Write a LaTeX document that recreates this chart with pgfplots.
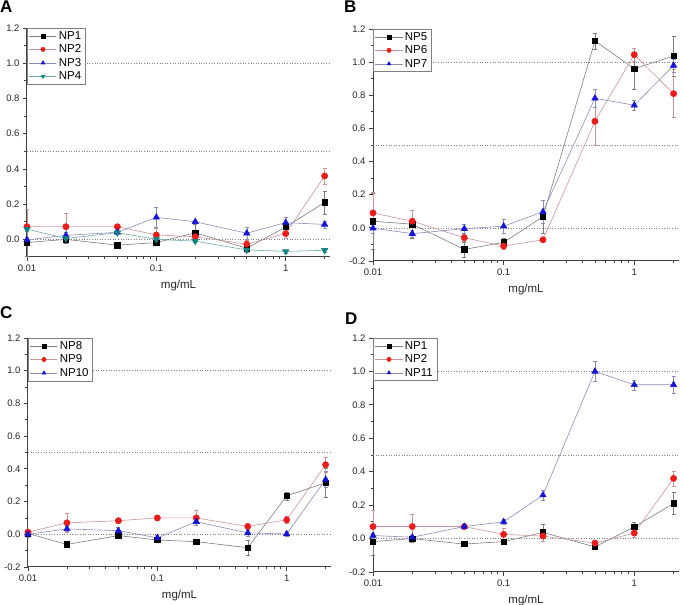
\documentclass[border=0pt]{standalone}
\usepackage{fontspec}
\setmainfont{Liberation Sans}
\usepackage{pgfplots}
\usepackage{pgfplotstable}
\pgfplotsset{compat=1.18}

\definecolor{mkred}{RGB}{235,28,28}
\definecolor{mkblue}{RGB}{20,20,210}
\definecolor{mkteal}{RGB}{20,130,130}
\definecolor{lnblack}{RGB}{125,125,125}
\definecolor{lnred}{RGB}{200,150,150}
\definecolor{lnblue}{RGB}{140,140,185}
\definecolor{lnteal}{RGB}{110,170,170}

% x, value, error
\pgfplotstableread{
x     np1     e1     np2     e2     np3     e3     np4     e4
0.01  -0.018  0.080   0.072  0.100  -0.003  0.015   0.058  0.010
0.02   0.000  0.020   0.072  0.075   0.023  0.015   0.005  0.010
0.05  -0.033  0.008   0.072  0.010   0.040  0.010   0.038  0.008
0.1   -0.018  0.010   0.025  0.040   0.125  0.055   0.000  0.010
0.2    0.037  0.050   0.015  0.030   0.100  0.010  -0.010  0.008
0.5   -0.050  0.010  -0.027  0.020   0.035  0.035  -0.060  0.010
1      0.070  0.025   0.033  0.025   0.095  0.030  -0.068  0.008
2      0.210  0.065   0.360  0.045   0.085  0.020  -0.062  0.008
}\tabA

\pgfplotstableread{
x     np5     e5     np6     e6     np7     e7
0.01   0.040  0.170   0.090  0.125  -0.002  0.030
0.02   0.022  0.085   0.040  0.065  -0.035  0.020
0.05  -0.130  0.045  -0.060  0.020  -0.005  0.030
0.1   -0.088  0.025  -0.110  0.020   0.010  0.040
0.2    0.068  0.100  -0.072  0.010   0.097  0.070
0.5    1.128  0.048   0.643  0.145   0.782  0.055
1      0.960  0.125   1.045  0.040   0.740  0.030
2      1.037  0.120   0.810  0.145   0.980  0.040
}\tabB

\pgfplotstableread{
x     np8     e8     np9     e9     np10    e10
0.01   0.005  0.015   0.013  0.015   0.000  0.015
0.02  -0.062  0.020   0.070  0.060   0.033  0.015
0.05  -0.008  0.010   0.083  0.015   0.022  0.020
0.1   -0.035  0.010   0.100  0.015  -0.022  0.015
0.2   -0.045  0.008   0.100  0.045   0.077  0.020
0.5   -0.082  0.045   0.048  0.015   0.008  0.020
1      0.235  0.025   0.088  0.020   0.002  0.015
2      0.315  0.090   0.425  0.045   0.335  0.050
}\tabC

\pgfplotstableread{
x     np11    e11
0.01   0.018  0.015
0.02   0.008  0.015
0.05   0.072  0.015
0.1    0.100  0.015
0.2    0.260  0.030
0.5    1.000  0.060
1      0.920  0.030
2      0.920  0.050
}\tabD

\pgfplotsset{
  sblack/.style={lnblack, line width=0.6pt, mark=square*, mark size=2.7pt,
    mark options={solid, fill=black, draw=black}},
  sred/.style={lnred, line width=0.6pt, mark=*, mark size=3.1pt,
    mark options={solid, fill=mkred, draw=mkred}},
  sblue/.style={lnblue, line width=0.6pt, mark=triangle*, mark size=3.6pt,
    mark options={solid, fill=mkblue, draw=mkblue}},
  steal/.style={lnteal, line width=0.6pt, mark=triangle*, mark size=3.6pt,
    mark options={solid, rotate=180, fill=mkteal, draw=mkteal}},
  legend image code/.code={
    \draw[#1, mark=none] (0pt,0pt) -- (27pt,0pt);
    \draw[#1, mark size=2.1pt] plot coordinates {(13.5pt,0pt)};
  },
}

\newcommand{\reflines}{%
  \draw[dash pattern=on 0.8pt off 1.8pt, black!50, line width=0.6pt] (axis cs:0.01,0) -- (axis cs:2.2,0);
  \draw[dash pattern=on 0.8pt off 1.8pt, black!50, line width=0.6pt] (axis cs:0.01,0.5) -- (axis cs:2.2,0.5);
  \draw[dash pattern=on 0.8pt off 1.8pt, black!50, line width=0.6pt] (axis cs:0.01,1) -- (axis cs:2.2,1);
}

\begin{document}
\begin{tikzpicture}
\useasboundingbox (0,0) rectangle (683pt,605pt);

\node[anchor=north west, inner sep=0pt, font=\fontsize{17}{18}\selectfont\bfseries] at (0pt,604pt) {A};
\node[anchor=north west, inner sep=0pt, font=\fontsize{17}{18}\selectfont\bfseries] at (344pt,604pt) {B};
\node[anchor=north west, inner sep=0pt, font=\fontsize{17}{18}\selectfont\bfseries] at (0pt,299pt) {C};
\node[anchor=north west, inner sep=0pt, font=\fontsize{17}{18}\selectfont\bfseries] at (345pt,292pt) {D};

% A
\begin{axis}[at={(27pt,348pt)}, anchor=south west,
    scale only axis, width=303pt, height=229pt,
    xmode=log, xmin=0.01, xmax=2.2, ymin=-0.1, ymax=1.2,
    axis lines*=left, clip=false,
    axis line style={line width=1pt, black!75},
    tick align=outside, tick style={black!75, line width=0.8pt},
    major tick length=4pt, minor tick length=2.5pt,
    xtick={0.01,0.1,1}, xticklabels={0.01,0.1,1},
    minor xtick={0.02,0.03,0.04,0.05,0.06,0.07,0.08,0.09,0.2,0.3,0.4,0.5,0.6,0.7,0.8,0.9,2},
    ytick={0,0.2,0.4,0.6,0.8,1.0,1.2}, minor y tick num=1,
    tick label style={font=\fontsize{9.5}{10}\selectfont, black!85},
    yticklabel={\pgfmathprintnumber[fixed,fixed zerofill,precision=1,assume math mode=true]{\tick}},
    xlabel={mg/mL}, xlabel style={font=\fontsize{11.5}{12}\selectfont, black!85, yshift=-2pt},
    legend style={at={(0,1)}, anchor=north west, draw=black!50,
      font=\fontsize{11.5}{12}\selectfont, inner xsep=2pt, inner ysep=1pt, row sep=0pt},
    legend cell align=left,
  ]
\reflines
\addplot[sblack, error bars/.cd, y dir=both, y explicit, error bar style={lnblack}, error mark options={rotate=90, mark size=2pt, lnblack}] table[x=x, y=np1, y error=e1] {\tabA};
\addlegendentry{NP1}
\addplot[sred, error bars/.cd, y dir=both, y explicit, error bar style={lnred}, error mark options={rotate=90, mark size=2pt, lnred}] table[x=x, y=np2, y error=e2] {\tabA};
\addlegendentry{NP2}
\addplot[sblue, error bars/.cd, y dir=both, y explicit, error bar style={lnblue}, error mark options={rotate=90, mark size=2pt, lnblue}] table[x=x, y=np3, y error=e3] {\tabA};
\addlegendentry{NP3}
\addplot[steal, error bars/.cd, y dir=both, y explicit, error bar style={lnteal}, error mark options={rotate=90, mark size=2pt, lnteal}] table[x=x, y=np4, y error=e4] {\tabA};
\addlegendentry{NP4}
\end{axis}

% B
\begin{axis}[at={(373pt,344pt)}, anchor=south west,
    scale only axis, width=306pt, height=232pt,
    xmode=log, xmin=0.01, xmax=2.2, ymin=-0.2, ymax=1.2,
    axis lines*=left, clip=false,
    axis line style={line width=1pt, black!75},
    tick align=outside, tick style={black!75, line width=0.8pt},
    major tick length=4pt, minor tick length=2.5pt,
    xtick={0.01,0.1,1}, xticklabels={0.01,0.1,1},
    minor xtick={0.02,0.03,0.04,0.05,0.06,0.07,0.08,0.09,0.2,0.3,0.4,0.5,0.6,0.7,0.8,0.9,2},
    ytick={-0.2,0,0.2,0.4,0.6,0.8,1.0,1.2}, minor y tick num=1,
    tick label style={font=\fontsize{9.5}{10}\selectfont, black!85},
    yticklabel={\pgfmathprintnumber[fixed,fixed zerofill,precision=1,assume math mode=true]{\tick}},
    xlabel={mg/mL}, xlabel style={font=\fontsize{11.5}{12}\selectfont, black!85, yshift=-2pt},
    legend style={at={(0,1)}, anchor=north west, draw=black!50,
      font=\fontsize{11.5}{12}\selectfont, inner xsep=2pt, inner ysep=1pt, row sep=0pt},
    legend cell align=left,
  ]
\reflines
\addplot[sblack, error bars/.cd, y dir=both, y explicit, error bar style={lnblack}, error mark options={rotate=90, mark size=2pt, lnblack}] table[x=x, y=np5, y error=e5] {\tabB};
\addlegendentry{NP5}
\addplot[sred, error bars/.cd, y dir=both, y explicit, error bar style={lnred}, error mark options={rotate=90, mark size=2pt, lnred}] table[x=x, y=np6, y error=e6] {\tabB};
\addlegendentry{NP6}
\addplot[sblue, error bars/.cd, y dir=both, y explicit, error bar style={lnblue}, error mark options={rotate=90, mark size=2pt, lnblue}] table[x=x, y=np7, y error=e7] {\tabB};
\addlegendentry{NP7}
\end{axis}

% C
\begin{axis}[at={(28pt,38pt)}, anchor=south west,
    scale only axis, width=303pt, height=229pt,
    xmode=log, xmin=0.01, xmax=2.2, ymin=-0.2, ymax=1.2,
    axis lines*=left, clip=false,
    axis line style={line width=1pt, black!75},
    tick align=outside, tick style={black!75, line width=0.8pt},
    major tick length=4pt, minor tick length=2.5pt,
    xtick={0.01,0.1,1}, xticklabels={0.01,0.1,1},
    minor xtick={0.02,0.03,0.04,0.05,0.06,0.07,0.08,0.09,0.2,0.3,0.4,0.5,0.6,0.7,0.8,0.9,2},
    ytick={-0.2,0,0.2,0.4,0.6,0.8,1.0,1.2}, minor y tick num=1,
    tick label style={font=\fontsize{9.5}{10}\selectfont, black!85},
    yticklabel={\pgfmathprintnumber[fixed,fixed zerofill,precision=1,assume math mode=true]{\tick}},
    xlabel={mg/mL}, xlabel style={font=\fontsize{11.5}{12}\selectfont, black!85, yshift=-2pt},
    legend style={at={(0,1)}, anchor=north west, draw=black!50,
      font=\fontsize{11.5}{12}\selectfont, inner xsep=2pt, inner ysep=1pt, row sep=0pt},
    legend cell align=left,
  ]
\reflines
\addplot[sblack, error bars/.cd, y dir=both, y explicit, error bar style={lnblack}, error mark options={rotate=90, mark size=2pt, lnblack}] table[x=x, y=np8, y error=e8] {\tabC};
\addlegendentry{NP8}
\addplot[sred, error bars/.cd, y dir=both, y explicit, error bar style={lnred}, error mark options={rotate=90, mark size=2pt, lnred}] table[x=x, y=np9, y error=e9] {\tabC};
\addlegendentry{NP9}
\addplot[sblue, error bars/.cd, y dir=both, y explicit, error bar style={lnblue}, error mark options={rotate=90, mark size=2pt, lnblue}] table[x=x, y=np10, y error=e10] {\tabC};
\addlegendentry{NP10}
\end{axis}

% D
\begin{axis}[at={(373pt,33pt)}, anchor=south west,
    scale only axis, width=306pt, height=234pt,
    xmode=log, xmin=0.01, xmax=2.2, ymin=-0.2, ymax=1.2,
    axis lines*=left, clip=false,
    axis line style={line width=1pt, black!75},
    tick align=outside, tick style={black!75, line width=0.8pt},
    major tick length=4pt, minor tick length=2.5pt,
    xtick={0.01,0.1,1}, xticklabels={0.01,0.1,1},
    minor xtick={0.02,0.03,0.04,0.05,0.06,0.07,0.08,0.09,0.2,0.3,0.4,0.5,0.6,0.7,0.8,0.9,2},
    ytick={-0.2,0,0.2,0.4,0.6,0.8,1.0,1.2}, minor y tick num=1,
    tick label style={font=\fontsize{9.5}{10}\selectfont, black!85},
    yticklabel={\pgfmathprintnumber[fixed,fixed zerofill,precision=1,assume math mode=true]{\tick}},
    xlabel={mg/mL}, xlabel style={font=\fontsize{11.5}{12}\selectfont, black!85, yshift=-2pt},
    legend style={at={(0,1)}, anchor=north west, draw=black!50,
      font=\fontsize{11.5}{12}\selectfont, inner xsep=2pt, inner ysep=1pt, row sep=0pt},
    legend cell align=left,
  ]
\reflines
\addplot[sblack, error bars/.cd, y dir=both, y explicit, error bar style={lnblack}, error mark options={rotate=90, mark size=2pt, lnblack}] table[x=x, y=np1, y error=e1] {\tabA};
\addlegendentry{NP1}
\addplot[sred, error bars/.cd, y dir=both, y explicit, error bar style={lnred}, error mark options={rotate=90, mark size=2pt, lnred}] table[x=x, y=np2, y error=e2] {\tabA};
\addlegendentry{NP2}
\addplot[sblue, error bars/.cd, y dir=both, y explicit, error bar style={lnblue}, error mark options={rotate=90, mark size=2pt, lnblue}] table[x=x, y=np11, y error=e11] {\tabD};
\addlegendentry{NP11}
\end{axis}
\end{tikzpicture}
\end{document}
